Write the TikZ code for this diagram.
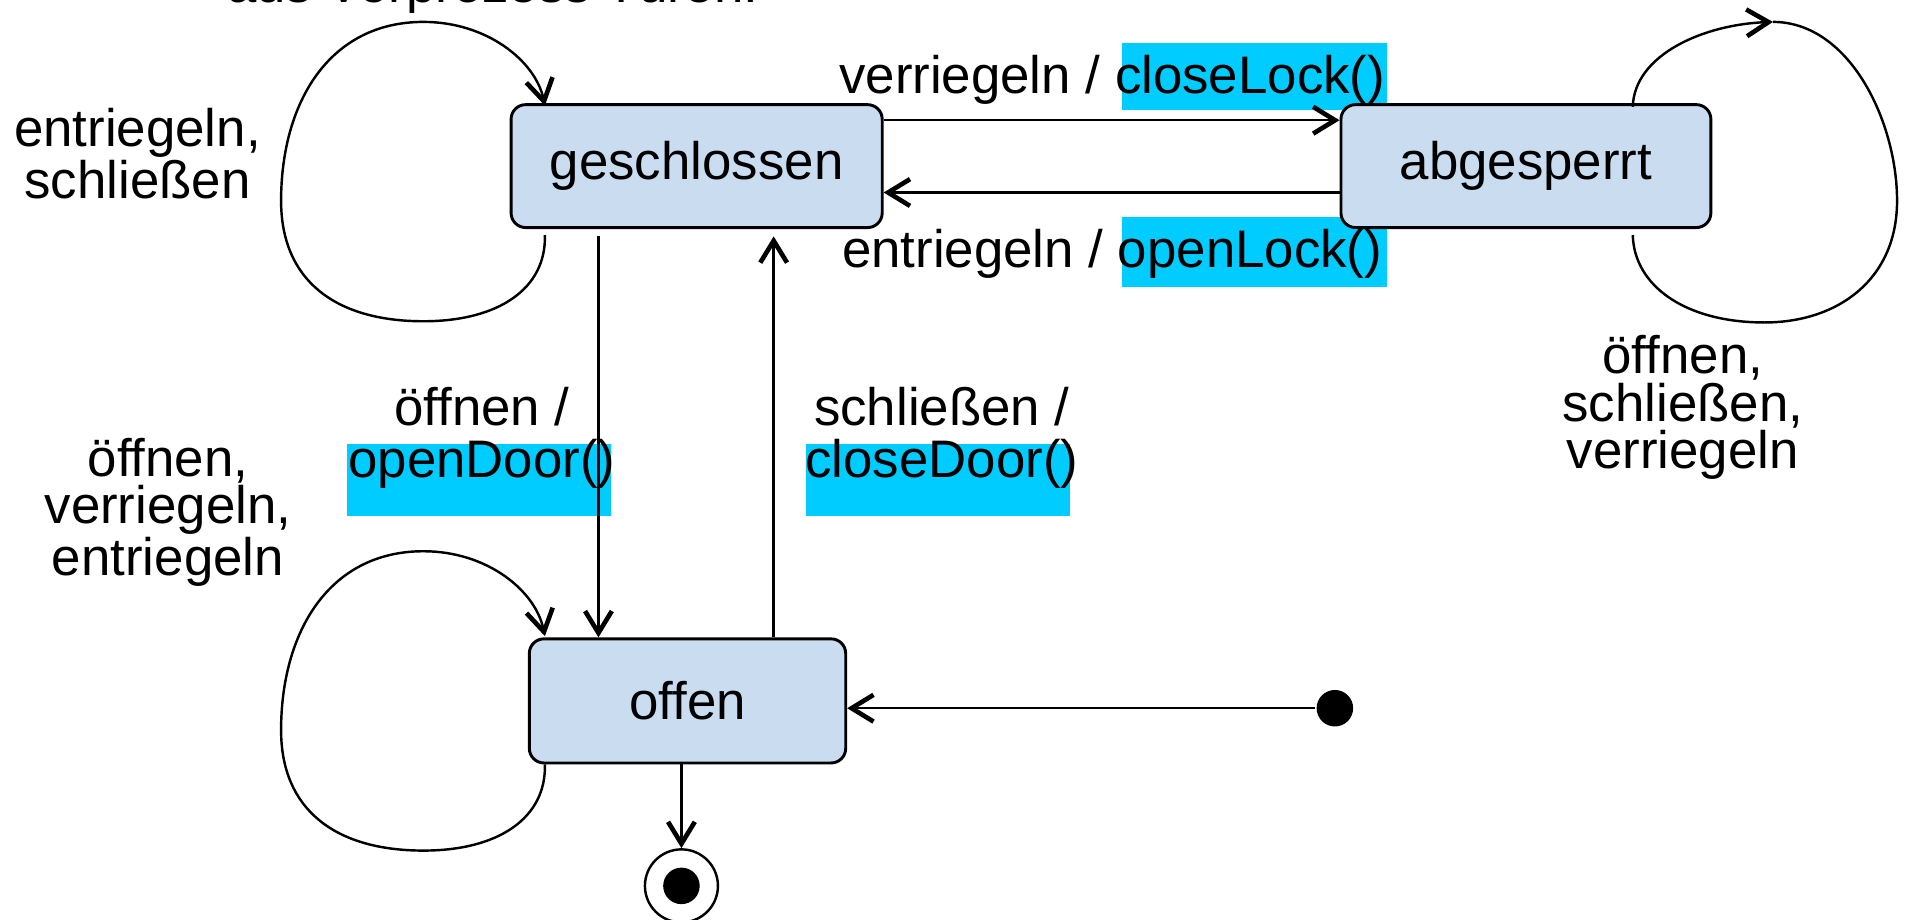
\documentclass[tikz,border=0pt]{standalone}
\usepackage{fontspec}
\setmainfont{Liberation Sans}
\usetikzlibrary{arrows.meta,calc}
\definecolor{statefill}{HTML}{C9DCF0}
\definecolor{hlcyan}{HTML}{00CCFF}
\newcommand\diafont{\fontsize{21.7}{19.5}\selectfont}
\tikzset{
  zustand/.style = {draw, line width=1.2pt, fill=statefill, rounded corners=6pt,
    minimum height=50.5pt, inner sep=0pt, font=\diafont},
  lbl/.style = {inner sep=0pt, align=center, font=\diafont},
  hl/.style = {fill=hlcyan},
  startdot/.style = {circle, fill, inner sep=0pt, minimum size=15pt},
  enddot/.style = {circle, draw, fill=white, inner sep=0pt, minimum size=30pt}
}
\tikzset{>={Straight Barb[length=9pt,width=11pt,line width=1.9pt]}}

\begin{document}
\begin{tikzpicture}[x=0.5pt,y=-0.5pt,line width=1pt]
  \useasboundingbox (0,0) rectangle (1568,756);
  % caption, cut off at the top
  \node[lbl,anchor=base] (caption) at (405,2) {aus Vorprozess Türen.};
  % highlighted actions
  \fill[hl] (922,35) rectangle (1140,90);
  \fill[hl] (922,178) rectangle (1140,236);
  \fill[hl] (285,365) rectangle (502,424);
  \fill[hl] (662,365) rectangle (879,424);
  % states
  \node[zustand,minimum width=152.5pt] (geschlossen) at (572.5,136.5) {geschlossen};
  \node[zustand,minimum width=152pt] (abgesperrt) at (1254,136.5) {abgesperrt};
  \node[zustand,minimum width=130pt,minimum height=51pt] (offen) at (565,576) {offen};
  % start and end
  \node[startdot] (start) at (1097,582) {};
  \node[enddot] (ende) at (560,728) {};
  \node[startdot] (endedot) at (ende) {};
  % transitions
  \draw[->] ($(geschlossen.north east)+(0,14)$) -- ($(abgesperrt.north west)+(0,14)$);
  \draw[->] ($(abgesperrt.south west)+(0,-30)$) -- ($(geschlossen.south east)+(0,-30)$);
  \draw[->] ($(geschlossen.south west)+(73,6)$) -- ($(offen.north west)+(58,0)$);
  \draw[->] ($(offen.north west)+(202,0)$) -- ($(geschlossen.south west)+(217,6)$);
  \draw[->] (start.west) -- (start.west -| offen.east);
  \draw[->] (offen.south -| ende) -- (ende.north);
  % loop coordinates
  \coordinate (gsout) at ($(geschlossen.south west)+(29,5)$);
  \coordinate (gsin) at ($(geschlossen.north west)+(29,2)$);
  \coordinate (ofout) at ($(offen.south west)+(14,0)$);
  \coordinate (ofin) at ($(offen.north west)+(14,-1)$);
  \coordinate (about) at ($(abgesperrt.north west)+(241,3)$);
  \coordinate (abtop) at (1457,18);
  \coordinate (abin) at ($(abgesperrt.south west)+(241,5)$);
  % self loops
  \draw[->] (gsout) .. controls (449,237) and (410,264) .. (348,264)
    .. controls (275,264) and (231,230) .. (231,165)
    .. controls (231,85) and (270,18) .. (348,18)
    .. controls (400,18) and (440,50) .. (gsin);
  \draw[->] (ofout) .. controls (449,672) and (410,699) .. (348,699)
    .. controls (275,699) and (231,665) .. (231,600)
    .. controls (231,520) and (270,453) .. (348,453)
    .. controls (400,453) and (440,485) .. (ofin);
  \draw[->] (about) .. controls (1343,45) and (1400,20) .. (abtop);
  \draw (abtop) .. controls (1520,18) and (1559,100) .. (1559,165)
    .. controls (1559,230) and (1510,265) .. (1450,265)
    .. controls (1385,265) and (1343,235) .. (abin);
  % labels (base = last line)
  \node[lbl,anchor=base] (gsloop) at (113,163) {entriegeln,\\schließen};
  \node[lbl,anchor=base] (ofloop) at (138,473) {öffnen,\\verriegeln,\\entriegeln};
  \node[lbl,anchor=base] (abloop) at (1383,385) {öffnen,\\schließen,\\verriegeln};
  \node[lbl,anchor=base] (lock) at (914,77) {verriegeln / closeLock()};
  \node[lbl,anchor=base] (unlock) at (914,220) {entriegeln / openLock()};
  \node[lbl,anchor=base] (opendoor) at (396,392) {öffnen /\\[1.5pt]openDoor()};
  \node[lbl,anchor=base] (closedoor) at (774,392) {schließen /\\[1.5pt]closeDoor()};
\end{tikzpicture}
\end{document}
